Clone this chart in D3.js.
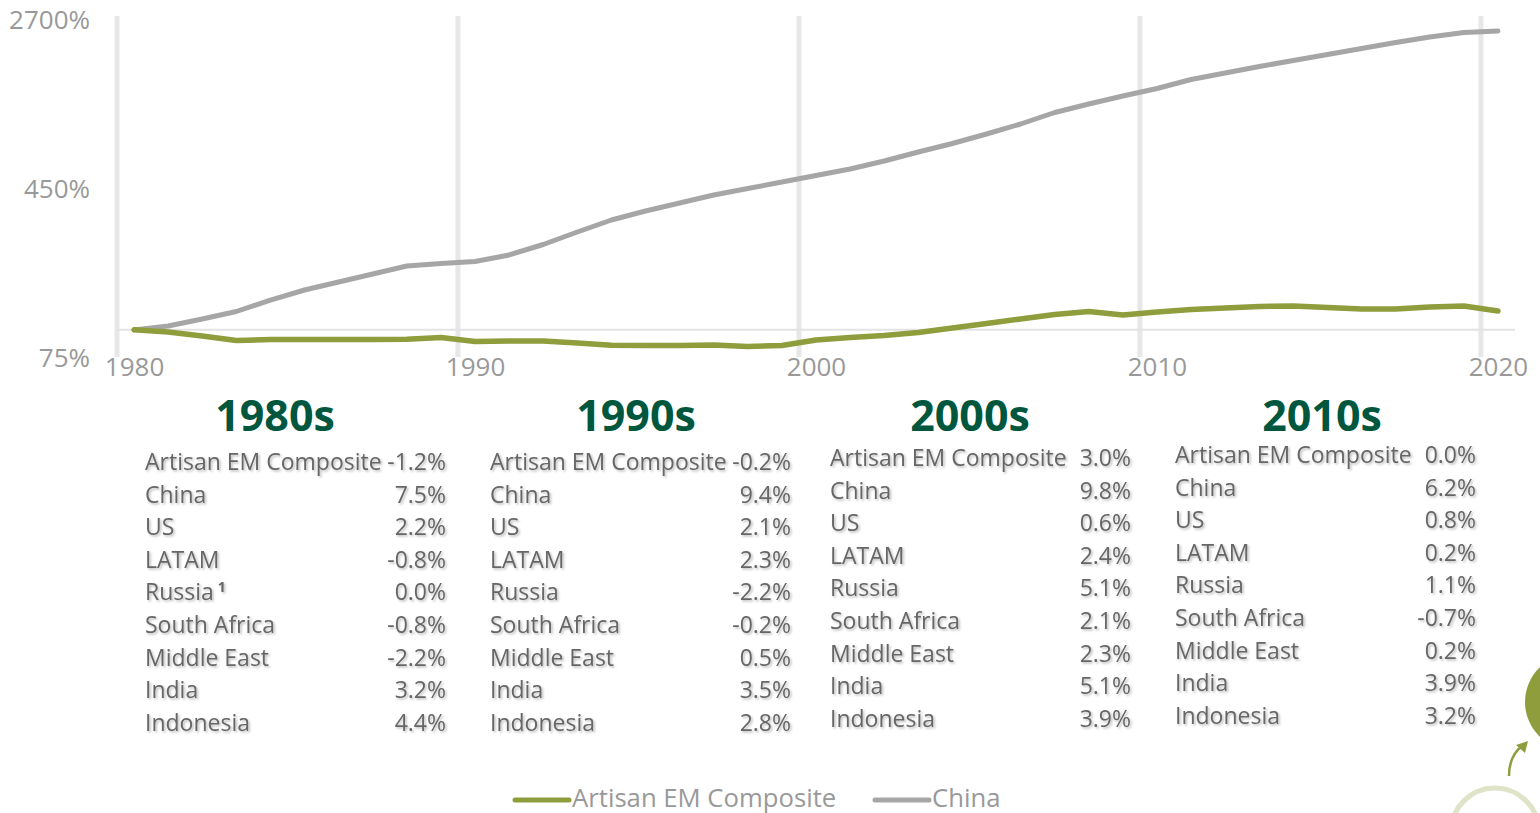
<!DOCTYPE html>
<html>
<head>
<meta charset="utf-8">
<script src="https://cdn.jsdelivr.net/npm/d3@7"></script>
<style>
  html, body { margin: 0; padding: 0; background: #fff; }
  svg { display: block; font-family: "Open Sans", sans-serif; }
</style>
</head>
<body>
<svg id="chart" width="1540" height="813"></svg>
<script>
// ---------- data ----------
const years = [1980,1981,1982,1983,1984,1985,1986,1987,1988,1989,
               1990,1991,1992,1993,1994,1995,1996,1997,1998,1999,
               2000,2001,2002,2003,2004,2005,2006,2007,2008,2009,
               2010,2011,2012,2013,2014,2015,2016,2017,2018,2019,2020];
const artisanEM = [100,97.8,93.7,89.3,90.3,90.3,90.3,90.3,90.5,92.2,
                   88.4,88.9,88.9,87.0,84.9,84.7,84.7,85.2,83.8,84.7,
                   89.8,92.2,94.2,97.2,102,107,112.2,117.7,121.5,117.1,
                   120.8,124.1,126.1,128.1,128.8,126.8,124.8,124.8,127.4,128.8,122.1];
const china = [100,104.2,112.2,121.5,137.2,152.6,166.1,180.9,196.8,202.1,
               206.4,221.2,247.2,282.3,320.5,352.6,383.8,417.8,447.6,479.5,
               513.6,550.2,599.2,659.1,721.3,797.7,886.9,1002,1096.7,1193.6,
               1292.2,1421.5,1523,1631.9,1738.9,1853.4,1975.2,2104.7,2231,2340,2377.6];
const yTicks = [75, 450, 2700];
const xTickYears = [1980, 1990, 2000, 2010, 2020];
const seriesNames = ["Artisan EM Composite", "China"];

const decades = ["1980s", "1990s", "2000s", "2010s"];
const rowLabels = ["Artisan EM Composite","China","US","LATAM","Russia","South Africa","Middle East","India","Indonesia"];
const values1980s = ["-1.2%","7.5%","2.2%","-0.8%","0.0%","-0.8%","-2.2%","3.2%","4.4%"];
const values1990s = ["-0.2%","9.4%","2.1%","2.3%","-2.2%","-0.2%","0.5%","3.5%","2.8%"];
const values2000s = ["3.0%","9.8%","0.6%","2.4%","5.1%","2.1%","2.3%","5.1%","3.9%"];
const values2010s = ["0.0%","6.2%","0.8%","0.2%","1.1%","-0.7%","0.2%","3.9%","3.2%"];
const decadeValues = [values1980s, values1990s, values2000s, values2010s];

// ---------- layout ----------
const svg = d3.select("#chart");
const colGreen = "#8f9d3c", colGray = "#a6a6a6";

const x = d3.scaleLinear().domain([1979.5, 2020.5]).range([117, 1515]);
const y = d3.scaleLog().domain([75, 2700]).range([357, 19]);

const defs = svg.append("defs");
const f = defs.append("filter").attr("id","shadow").attr("x","-5%").attr("y","-20%").attr("width","110%").attr("height","150%");
f.append("feDropShadow").attr("dx",1.5).attr("dy",1.5).attr("stdDeviation",0.8)
  .attr("flood-color","#000").attr("flood-opacity",0.28);

// vertical gridlines (between categories)
svg.append("g").selectAll("line").data(xTickYears).join("line")
  .attr("x1", d => x(d - 0.5)).attr("x2", d => x(d - 0.5))
  .attr("y1", 16).attr("y2", y(75))
  .attr("stroke", "#e7e7e7").attr("stroke-width", 5);

// horizontal axis line at 100%
svg.append("line")
  .attr("x1", x(1979.5)).attr("x2", x(2020.5))
  .attr("y1", y(100)).attr("y2", y(100))
  .attr("stroke", "#e3e3e3").attr("stroke-width", 2);

// y axis
const yAxis = d3.axisLeft(y).tickValues(yTicks).tickSize(0).tickPadding(0)
  .tickFormat(d => d + "%");
const yg = svg.append("g").attr("transform", "translate(90,0)").call(yAxis);
yg.select(".domain").remove();
yg.selectAll("text").attr("fill", "#999").style("font-size", "26px")
  .style("font-family", "'Open Sans', sans-serif").attr("dy", "0.35em");

// x axis
const xAxis = d3.axisBottom(x).tickValues(xTickYears).tickSize(0).tickPadding(0)
  .tickFormat(d3.format("d"));
const xg = svg.append("g").attr("transform", "translate(0,358)").call(xAxis);
xg.select(".domain").remove();
xg.selectAll("text").attr("fill", "#999").style("font-size", "26px")
  .style("font-family", "'Open Sans', sans-serif").attr("dy", "0.71em");

// lines
const line = d3.line().x((d, i) => x(years[i])).y(d => y(d));
svg.append("path").datum(china).attr("d", line)
  .attr("fill", "none").attr("stroke", colGray).attr("stroke-width", 5)
  .attr("stroke-linejoin", "round").attr("stroke-linecap", "round");
svg.append("path").datum(artisanEM).attr("d", line)
  .attr("fill", "none").attr("stroke", colGreen).attr("stroke-width", 5.5)
  .attr("stroke-linejoin", "round").attr("stroke-linecap", "round");

// legend
const legend = [
  {name: seriesNames[0], color: colGreen, x0: 515},
  {name: seriesNames[1], color: colGray, x0: 875}
];
const lg = svg.append("g");
legend.forEach(l => {
  lg.append("line").attr("x1", l.x0).attr("x2", l.x0 + 54).attr("y1", 800).attr("y2", 800)
    .attr("stroke", l.color).attr("stroke-width", 5).attr("stroke-linecap", "round");
  lg.append("text").attr("x", l.x0 + 57).attr("y", 807).text(l.name)
    .attr("fill", "#999").style("font-size", "25.7px");
});

// decade tables
const headerCenters = [275, 636, 970, 1322];
const labelX = [145, 490, 830, 1175];
const valueX = [446, 791, 1131, 1476];
const firstBaseline = [470, 470, 466, 463];
const rowStep = 32.6;

decades.forEach((dec, c) => {
  const g = svg.append("g");
  g.append("text").attr("x", headerCenters[c]).attr("y", 431)
    .attr("text-anchor", "middle").attr("fill", "#00573d")
    .style("font-size", "43px").style("font-weight", "700").text(dec);
  const tg = g.append("g").attr("filter", "url(#shadow)");
  rowLabels.forEach((lab, r) => {
    const by = firstBaseline[c] + r * rowStep;
    const t = tg.append("text").attr("x", labelX[c]).attr("y", by)
      .attr("fill", "#666").style("font-size", "23px").text(lab);
    if (c === 0 && lab === "Russia") {
      t.append("tspan").attr("dx", 4).attr("dy", -8).style("font-size", "14px")
        .style("font-weight", "700").text("1");
    }
    tg.append("text").attr("x", valueX[c]).attr("y", by).attr("text-anchor", "end")
      .attr("fill", "#666").style("font-size", "23px").text(decadeValues[c][r]);
  });
});

// decorative logo fragments (bottom right)
svg.append("circle").attr("cx", 1573).attr("cy", 702).attr("r", 48).attr("fill", colGreen);
svg.append("circle").attr("cx", 1495).attr("cy", 832).attr("r", 44)
  .attr("fill", "none").attr("stroke", "#dfe3c8").attr("stroke-width", 5);
svg.append("path").attr("d", "M1509,776 Q1509,756 1522,746")
  .attr("fill", "none").attr("stroke", colGreen).attr("stroke-width", 2.5);
svg.append("path").attr("d", "M1528,741 L1516,745 L1525,753 Z").attr("fill", colGreen);
</script>
</body>
</html>
